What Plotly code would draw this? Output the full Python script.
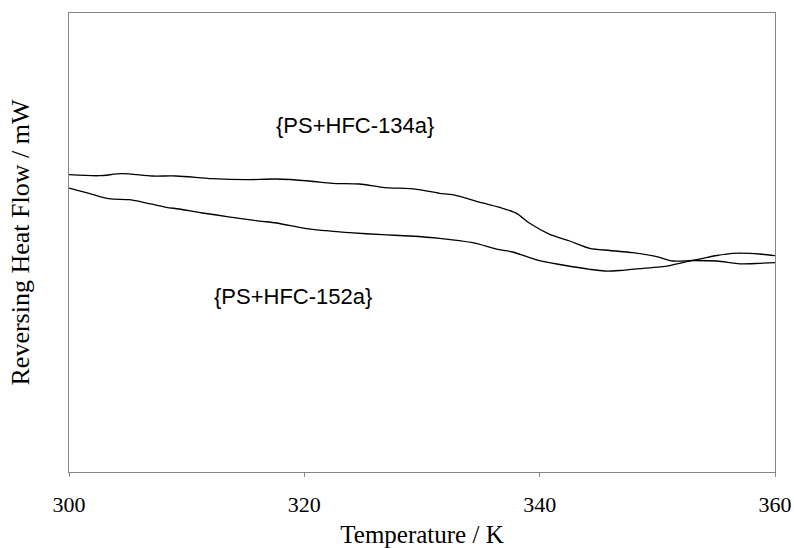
import plotly.graph_objects as go

# {PS+HFC-134a} curve: temperature (K) and reversing heat flow (arbitrary mW)
t_134a = [300.00, 302.55, 304.51, 307.06, 309.11, 312.17, 315.06, 317.62, 320.43,
          322.38, 324.68, 326.64, 329.53, 331.49, 332.60, 335.15, 336.85, 338.04,
          339.15, 340.85, 342.55, 344.26, 345.96, 347.91, 349.96, 351.32, 353.02,
          355.06, 357.02, 358.72, 360.00]
hf_134a = [6.477, 6.455, 6.499, 6.449, 6.449, 6.390, 6.368, 6.383, 6.340,
           6.290, 6.275, 6.203, 6.159, 6.072, 6.041, 5.861, 5.745, 5.636,
           5.418, 5.179, 5.033, 4.874, 4.826, 4.778, 4.691, 4.597, 4.608,
           4.597, 4.536, 4.547, 4.560]

# {PS+HFC-152a} curve
t_152a = [300.00, 301.70, 303.40, 305.11, 306.21, 308.26, 309.36, 311.32, 313.87,
          316.17, 317.62, 320.17, 321.87, 323.83, 326.64, 328.94, 331.49, 334.30,
          336.34, 337.70, 340.00, 341.96, 344.26, 345.53, 346.81, 348.77, 350.47,
          352.51, 353.87, 355.06, 356.43, 357.87, 358.72, 360.00]
hf_152a = [6.187, 6.072, 5.954, 5.932, 5.882, 5.767, 5.730, 5.643, 5.549,
           5.468, 5.425, 5.301, 5.257, 5.214, 5.170, 5.142, 5.092, 4.996,
           4.858, 4.793, 4.603, 4.510, 4.416, 4.379, 4.390, 4.438, 4.473,
           4.582, 4.656, 4.717, 4.765, 4.765, 4.749, 4.712]

x_ticks = [300, 320, 340, 360]
labels = ["{PS+HFC-134a}", "{PS+HFC-152a}"]
label_x = [324.3, 319.0]
label_y = [7.54, 3.83]

fig = go.Figure()
fig.add_trace(go.Scatter(x=t_134a, y=hf_134a, mode="lines", name=labels[0],
                         line=dict(color="black", width=1.3, shape="spline", smoothing=0.8)))
fig.add_trace(go.Scatter(x=t_152a, y=hf_152a, mode="lines", name=labels[1],
                         line=dict(color="black", width=1.3, shape="spline", smoothing=0.8)))

for txt, lx, ly in zip(labels, label_x, label_y):
    fig.add_annotation(x=lx, y=ly, text=txt, showarrow=False, xanchor="center", yanchor="middle",
                       font=dict(family="Liberation Sans", size=22, color="black"))

serif = "Liberation Serif"
axis_color = "#868686"
fig.update_layout(
    width=794, height=548,
    margin=dict(l=69, r=19, t=13, b=76, autoexpand=False),
    paper_bgcolor="white", plot_bgcolor="white",
    showlegend=False,
    font=dict(family=serif, color="black"),
    xaxis=dict(range=[300, 360], tickvals=x_ticks, ticktext=[str(v) for v in x_ticks],
               automargin=False,
               showgrid=False, zeroline=False, showline=True, mirror=True,
               linecolor=axis_color, linewidth=1.3, ticks="outside", ticklen=4,
               tickcolor=axis_color, tickwidth=1,
               tickfont=dict(family=serif, size=22, color="black"),
               ticklabelstandoff=8,
               title=dict(text="Temperature / K", standoff=17,
                          font=dict(family=serif, size=25, color="black"))),
    yaxis=dict(range=[0, 10], automargin=False,
               showgrid=False, zeroline=False, showline=True, mirror=True,
               linecolor=axis_color, linewidth=1.3, ticks="", showticklabels=False,
               title=dict(text="Reversing Heat Flow / mW", standoff=30,
                          font=dict(family=serif, size=26, color="black"))),
)

fig.write_html("out.html")
